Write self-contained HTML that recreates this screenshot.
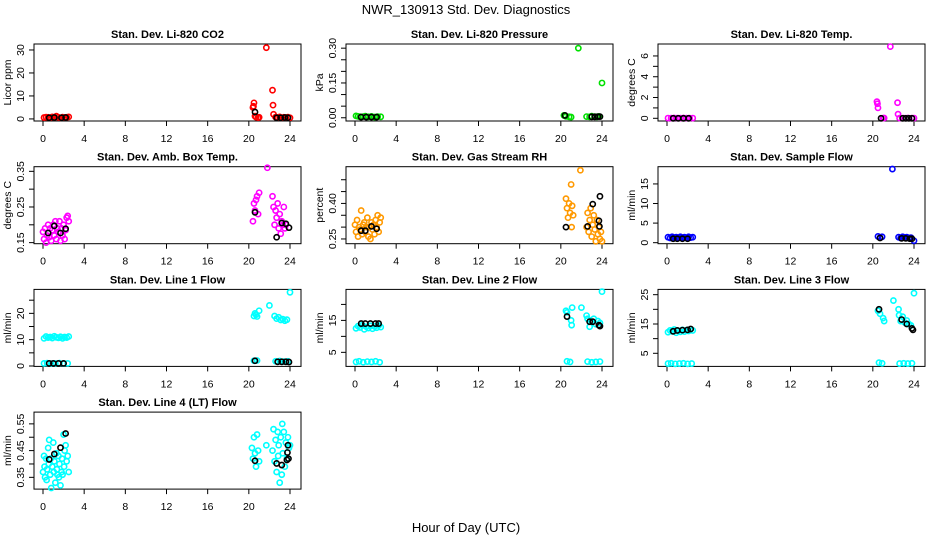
<!DOCTYPE html>
<html><head><meta charset="utf-8"><style>
html,body{margin:0;padding:0;background:#fff;}
svg{display:block;font-family:"Liberation Sans",sans-serif;}
</style></head><body>
<svg id="chart" width="936" height="540" viewBox="0 0 936 540" xmlns="http://www.w3.org/2000/svg">
<rect x="0" y="0" width="936" height="540" fill="#fff"/>
<text x="466" y="14" text-anchor="middle" font-size="13">NWR_130913  Std. Dev. Diagnostics</text>
<text x="466" y="532" text-anchor="middle" font-size="13">Hour of Day (UTC)</text>
</svg>
<script>
// ---- data ----
const xTicks = [0,4,8,12,16,20,24];
const titles = ["Stan. Dev. Li-820 CO2","Stan. Dev. Li-820 Pressure","Stan. Dev. Li-820 Temp.","Stan. Dev. Amb. Box Temp.","Stan. Dev. Gas Stream RH","Stan. Dev. Sample Flow","Stan. Dev. Line 1 Flow","Stan. Dev. Line 2 Flow","Stan. Dev. Line 3 Flow","Stan. Dev. Line 4 (LT) Flow"];
const yTitles = ["Licor ppm","kPa","degrees C","degrees C","percent","ml/min","ml/min","ml/min","ml/min","ml/min"];
const yDomains = [[-0.9,32.6],[-0.014,0.318],[-0.26,7.15],[0.147,0.363],[0.23,0.555],[-0.26,19.4],[-0.15,29.1],[0.6,24.7],[0.53,26.8],[0.306,0.594]];
const yTickVals = [[0,10,20,30],[0,0.05,0.1,0.15,0.2,0.25,0.3],[0,1,2,3,4,5,6],[0.15,0.2,0.25,0.3,0.35],[0.25,0.3,0.35,0.4,0.45,0.5],[0,5,10,15],[0,5,10,15,20,25],[5,10,15,20],[5,10,15,20,25],[0.35,0.4,0.45,0.5,0.55]];
const yTickLabels = [["0","10","20","30"],["0.00","","","0.15","","","0.30"],["0","","2","","4","","6"],["0.15","","0.25","","0.35"],["0.25","","","0.40","",""],["0","5","10","15"],["0","","10","","20",""],["5","","15",""],["5","","15","","25"],["0.35","","0.45","","0.55"]];
const colors = ["#ff0000","#00e000","#ff00ff","#ff00ff","#ff9900","#0000ff","#00ffff","#00ffff","#00ffff","#00ffff"];

const co2H = [0.1,0.3,0.5,0.7,0.9,1.1,1.3,1.5,1.7,1.9,2.1,2.3,2.5,20.4,20.45,20.5,20.6,20.7,20.9,21.0,21.7,22.3,22.35,22.4,22.6,22.8,23.0,23.2,23.4,23.6,23.8,24.0];
const co2V = [0.6,0.8,0.7,0.5,0.9,0.6,1.2,0.7,0.5,0.8,0.6,0.7,0.9,5,5.5,7,1.2,0.8,0.6,0.7,31,12.5,6,2,0.8,0.6,0.9,0.5,0.7,0.6,0.8,0.5];
const co2BH = [0.6,1.1,1.8,2.2,20.6,22.7,23.1,23.5,23.8];
const co2BV = [0.5,0.6,0.5,0.6,3,0.5,0.5,0.6,0.5];

const presH = [0.1,0.3,0.5,0.8,1.0,1.3,1.6,1.9,2.2,2.5,20.3,20.5,20.8,21.0,21.7,22.5,22.8,23.0,23.3,23.5,23.7,24.0];
const presV = [0.008,0.006,0.004,0.005,0.007,0.004,0.006,0.003,0.005,0.004,0.01,0.006,0.004,0.003,0.30,0.005,0.004,0.007,0.005,0.004,0.006,0.15];
const presBH = [0.6,1.1,1.6,2.1,20.4,23.0,23.3,23.6,23.8];
const presBV = [0.003,0.003,0.003,0.003,0.01,0.004,0.004,0.005,0.005];

const tempH = [0.1,0.4,0.7,1.0,1.3,1.6,1.9,2.2,2.5,20.4,20.45,20.5,21.0,21.1,21.7,22.4,22.45,22.6,23.0,23.4,23.8,24.0];
const tempV = [0.02,0.02,0.03,0.02,0.02,0.03,0.02,0.02,0.02,1.6,1.4,1.0,0.02,0.03,6.9,1.5,0.4,0.02,0.02,0.03,0.02,0.02];
const tempBH = [0.6,1.1,1.6,2.1,20.8,22.9,23.2,23.5,23.8];
const tempBV = [0,0,0,0,0,0,0,0,0];

const boxH = [0.0,0.1,0.2,0.3,0.4,0.5,0.6,0.7,0.8,0.9,1.0,1.1,1.2,1.3,1.4,1.5,1.6,1.7,1.8,1.9,2.0,2.1,2.2,2.3,2.4,2.5,20.4,20.5,20.6,20.7,20.8,20.9,21.0,21.8,22.3,22.4,22.5,22.6,22.7,22.8,22.9,23.0,23.1,23.2,23.3,23.4,23.5,23.6];
const boxV = [0.18,0.16,0.19,0.15,0.17,0.2,0.165,0.19,0.155,0.185,0.2,0.17,0.21,0.16,0.19,0.18,0.21,0.155,0.19,0.17,0.2,0.16,0.185,0.22,0.225,0.21,0.21,0.26,0.24,0.27,0.28,0.23,0.29,0.36,0.28,0.25,0.2,0.24,0.22,0.26,0.19,0.23,0.175,0.21,0.2,0.25,0.19,0.2];
const boxBH = [0.5,1.1,1.7,2.2,20.6,22.7,23.2,23.6,23.9];
const boxBV = [0.177,0.197,0.177,0.189,0.235,0.165,0.205,0.203,0.192];

const rhH = [0.0,0.1,0.2,0.3,0.4,0.5,0.6,0.7,0.8,0.9,1.0,1.1,1.2,1.3,1.4,1.5,1.6,1.7,1.8,1.9,2.0,2.1,2.2,2.3,2.4,2.5,20.5,20.6,20.7,20.8,20.9,21.0,21.05,21.1,21.2,21.9,22.5,22.6,22.7,22.8,22.9,23.0,23.1,23.2,23.3,23.4,23.5,23.6,23.7,23.8,23.9,24.0];
const rhV = [0.31,0.28,0.33,0.26,0.3,0.29,0.37,0.27,0.31,0.32,0.28,0.3,0.34,0.26,0.3,0.25,0.32,0.29,0.31,0.27,0.33,0.3,0.35,0.28,0.32,0.34,0.42,0.38,0.34,0.4,0.36,0.48,0.3,0.39,0.35,0.54,0.3,0.36,0.28,0.33,0.38,0.26,0.31,0.35,0.29,0.24,0.33,0.27,0.3,0.25,0.28,0.24];
const rhBH = [0.6,1.0,1.6,2.1,20.5,22.6,23.1,23.7,23.75,23.8];
const rhBV = [0.285,0.285,0.303,0.293,0.30,0.303,0.397,0.327,0.303,0.43];

const sfH = [0.1,0.3,0.5,0.7,0.9,1.1,1.3,1.5,1.7,1.9,2.1,2.3,2.5,20.5,20.7,20.9,21.9,22.5,22.7,22.9,23.1,23.3,23.5,23.7,24.0];
const sfV = [1.4,1.2,1.5,1.3,1.4,1.2,1.5,1.3,1.4,1.2,1.5,1.3,1.4,1.6,1.3,1.5,18.8,1.4,1.2,1.5,1.3,1.4,1.2,1.3,0.5];
const sfBH = [0.6,1.0,1.5,2.0,20.7,22.8,23.2,23.6,23.8];
const sfBV = [1,1,1,1,1.2,1.1,1.1,1,1];

const l1H = [0.1,0.3,0.5,0.7,0.9,1.1,1.3,1.5,1.7,1.9,2.1,2.3,2.5,0.1,0.4,0.8,1.2,1.6,2.0,2.4,20.5,20.6,20.7,20.8,21.0,22.0,22.5,22.7,22.9,23.1,23.3,23.5,23.7,24.0,20.5,20.8,22.6,23.0,23.4,23.8];
const l1V = [10.5,11.2,10.8,11.0,10.6,11.3,10.9,10.7,11.1,10.5,11.0,10.8,11.2,1.0,1.1,0.9,1.0,1.1,0.9,1.0,19.0,20.0,19.5,18.8,21.0,23.0,19.0,18.0,18.5,17.5,17.8,17.2,17.6,28.0,2.0,2.1,1.8,1.9,1.7,1.8];
const l1BH = [0.6,1.0,1.5,2.0,20.6,22.8,23.2,23.6,23.9];
const l1BV = [1,1,1,1,2,1.6,1.6,1.6,1.5];

const l2H = [0.1,0.3,0.5,0.7,0.9,1.1,1.3,1.5,1.7,1.9,2.1,2.3,2.5,0.1,0.4,0.8,1.2,1.6,2.0,2.4,20.5,20.6,21.0,21.05,21.1,22.0,22.5,22.6,22.8,23.0,23.2,23.4,23.6,23.8,24.0,20.6,20.9,22.6,23.0,23.4,23.8];
const l2V = [12.5,13.2,12.8,13.5,12.2,13.0,12.6,13.3,12.4,13.1,12.7,13.4,12.9,2,2.2,1.9,2.1,2.0,2.2,1.9,18,17.5,15,13.5,19,19,16.5,15.5,13,14.5,15.5,13.8,14.8,14.2,24,2.2,2.0,2.1,1.9,2.0,2.1];
const l2BH = [0.6,1.0,1.5,2.0,2.3,20.6,22.8,23.1,23.7,23.8];
const l2BV = [14,14,14,14,14,16.2,14.6,14.6,13.5,13.2];

const l3H = [0.1,0.3,0.5,0.7,0.9,1.1,1.3,1.5,1.7,1.9,2.1,2.3,2.5,0.1,0.4,0.8,1.2,1.6,2.0,2.4,20.5,20.7,21.0,21.1,22.0,22.5,22.55,22.7,22.9,23.1,23.3,23.5,23.7,24.0,20.6,20.9,22.6,23.0,23.4,23.8];
const l3V = [12.2,12.8,12.5,13.1,12.0,12.7,12.3,13.0,12.4,12.9,12.6,13.2,12.8,1.5,1.6,1.4,1.5,1.6,1.4,1.5,19.5,18.5,17,16,23,20,18,16,17.5,15.5,16.2,15,14.5,25.5,1.8,1.6,1.5,1.6,1.5,1.6];
const l3BH = [0.6,1.0,1.5,2.0,2.3,20.6,22.8,23.3,23.8,23.9];
const l3BV = [12.5,12.8,12.9,13.0,13.3,20,16.5,15,13.5,13];

const l4H = [0.0,0.1,0.15,0.2,0.3,0.35,0.4,0.5,0.55,0.6,0.7,0.75,0.8,0.9,1.0,1.05,1.1,1.2,1.3,1.35,1.4,1.5,1.55,1.6,1.7,1.8,1.85,1.9,2.0,2.05,2.1,2.2,2.3,2.4,2.5,20.3,20.4,20.5,20.6,20.7,20.8,20.9,21.0,21.7,22.3,22.4,22.5,22.6,22.7,22.8,22.85,22.9,23.0,23.1,23.2,23.25,23.3,23.4,23.5,23.6,23.7,23.8,23.9,24.0];
const l4V = [0.37,0.43,0.39,0.35,0.42,0.34,0.38,0.46,0.4,0.49,0.36,0.42,0.31,0.39,0.48,0.37,0.41,0.33,0.44,0.38,0.36,0.43,0.35,0.4,0.32,0.37,0.42,0.36,0.51,0.39,0.45,0.47,0.41,0.43,0.37,0.46,0.42,0.5,0.44,0.39,0.51,0.45,0.41,0.47,0.45,0.53,0.41,0.49,0.37,0.52,0.43,0.47,0.33,0.5,0.36,0.55,0.44,0.52,0.39,0.48,0.42,0.5,0.46,0.47];
const l4BH = [0.6,1.1,1.7,2.2,20.6,22.7,23.2,23.7,23.75,23.8,23.85];
const l4BV = [0.417,0.437,0.461,0.514,0.412,0.402,0.396,0.415,0.443,0.47,0.42];

const seriesH = [co2H,presH,tempH,boxH,rhH,sfH,l1H,l2H,l3H,l4H];
const seriesV = [co2V,presV,tempV,boxV,rhV,sfV,l1V,l2V,l3V,l4V];
const blackH = [co2BH,presBH,tempBH,boxBH,rhBH,sfBH,l1BH,l2BH,l3BH,l4BH];
const blackV = [co2BV,presBV,tempBV,boxBV,rhBV,sfBV,l1BV,l2BV,l3BV,l4BV];

// ---- drawing ----
const NS = "http://www.w3.org/2000/svg";
const svg = document.getElementById("chart");
function mk(tag, attrs, parent){
  const e = document.createElementNS(NS, tag);
  for (const k in attrs) e.setAttribute(k, attrs[k]);
  (parent||svg).appendChild(e);
  return e;
}
const BOX_W = 267, BOX_H = 77;
for (let p = 0; p < 10; p++) {
  const col = p % 3, row = Math.floor(p / 3);
  const bx = 34 + col * 312, by = 44 + row * 122.7;
  const dom = yDomains[p];
  const xs = h => bx + 9 + h * (247 / 24);
  const ys = v => by + BOX_H - (v - dom[0]) / (dom[1] - dom[0]) * BOX_H;
  const g = mk("g", {});
  
  
  const t = mk("text", {x: bx + BOX_W / 2, y: by - 6, "text-anchor": "middle", "font-size": 11, "font-weight": "bold"}, g);
  t.textContent = titles[p];
  
  
  const box = mk("rect", {x: bx, y: by, width: BOX_W, height: BOX_H, fill: "none", stroke: "#000", "stroke-width": 1}, g);
  
  
  xTicks.forEach(v => {
    const x = xs(v);
    const tk = mk("line", {x1: x, x2: x, y1: by + BOX_H, y2: by + BOX_H + 5, stroke: "#000"}, g);
    
    
    const lb = mk("text", {x: x, y: by + BOX_H + 21, "text-anchor": "middle", "font-size": 10.5}, g);
    lb.textContent = v;
    
    
  });
  yTickVals[p].forEach((v, i) => {
    const y = ys(v);
    const tk = mk("line", {x1: bx - 5, x2: bx, y1: y, y2: y, stroke: "#000"}, g);
    
    
    const s = yTickLabels[p][i];
    if (s) {
      const lb = mk("text", {x: 0, y: 0, "text-anchor": "middle", "font-size": 10.5, transform: `translate(${bx - 10},${y}) rotate(-90)`}, g);
      lb.textContent = s;
      
      
    }
  });
  const yt = mk("text", {x: 0, y: 0, "text-anchor": "middle", "font-size": 10.5, transform: `translate(${bx - 23},${by + BOX_H / 2}) rotate(-90)`}, g);
  yt.textContent = yTitles[p];
  
  
  seriesH[p].forEach((h, i) => {
    const c = mk("circle", {cx: xs(h), cy: ys(seriesV[p][i]), r: 2.6, fill: "none", stroke: colors[p], "stroke-width": 1.6}, g);
    
    
  });
  blackH[p].forEach((h, i) => {
    const c = mk("circle", {cx: xs(h), cy: ys(blackV[p][i]), r: 2.6, fill: "none", stroke: "#000", "stroke-width": 1.6}, g);
    
    
  });
}
</script>
</body></html>
